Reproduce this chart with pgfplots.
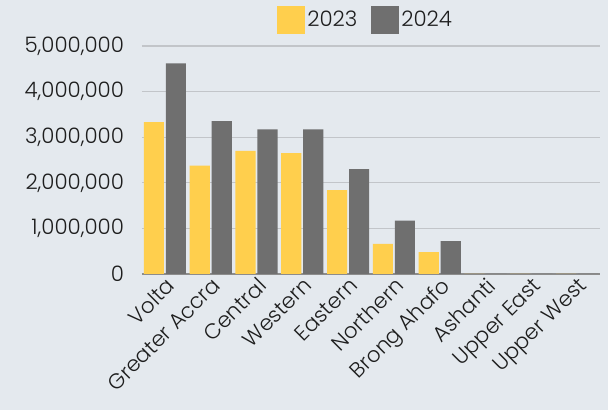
\documentclass[border=0pt]{standalone}
\usepackage{fontspec}
\setmainfont{Poppins}[UprightFont={* Light}]
\usepackage{pgfplots}
\pgfplotsset{compat=1.18}
\usetikzlibrary{calc,backgrounds}

\definecolor{bgc}{HTML}{E4E9EE}
\definecolor{yel}{HTML}{FFCF4D}
\definecolor{gry}{HTML}{6F6F6F}
\definecolor{gridc}{HTML}{C2C5C9}
\definecolor{txt}{HTML}{1E1E1E}

\begin{document}
\begin{tikzpicture}
  \begin{axis}[
      name=ax,
      scale only axis,
      width=343.5pt, height=171pt,
      ybar, bar width=0.44,
      xmin=-0.5, xmax=9.5,
      ymin=0, ymax=5000000,
      ytick={0,1000000,2000000,3000000,4000000,5000000},
      scaled y ticks=false,
      /pgf/number format/fixed,
      /pgf/number format/1000 sep={,},
      /pgf/number format/assume math mode=true,
      yticklabel style={font=\fontsize{16}{18}\selectfont, xshift=-10pt, text=txt},
      xtick={0,...,9},
      xticklabels={Volta,Greater Accra,Central,Western,Eastern,Northern,Brong Ahafo,Ashanti,Upper East,Upper West},
      xticklabel style={font=\fontsize{16}{18}\selectfont, rotate=45, anchor=north east, inner sep=1pt, text=txt},
      major tick length=0pt,
      ymajorgrids, grid style={gridc, line width=0.8pt},
      axis x line*=bottom, axis y line*=left,
      y axis line style={draw=none},
      x axis line style={draw=gry!80, line width=0.8pt},
      legend style={at={(0.5,1)}, anchor=south, xshift=-4pt, yshift=7pt, draw=none, fill=none,
        font=\fontsize{16}{18}\selectfont, text=txt, legend columns=2,
        /tikz/every even column/.append style={column sep=8pt}},
      legend image code/.code={\fill[#1] (0pt,-10.5pt) rectangle (21pt,10.5pt);},
    ]
    \addplot[fill=yel, draw=none, bar shift=-0.24] coordinates {
      (0,3330000) (1,2375000) (2,2700000) (3,2650000) (4,1840000)
      (5,660000) (6,480000) (7,0) (8,0) (9,0)
    };
    \addplot[fill=gry, draw=none, bar shift=0.24] coordinates {
      (0,4620000) (1,3350000) (2,3170000) (3,3170000) (4,2300000)
      (5,1170000) (6,720000) (7,0) (8,0) (9,0)
    };
    \legend{2023,2024}
  \end{axis}
  \begin{pgfonlayer}{background}
    \fill[bgc] ($(ax.south west)+(-106.5pt,-102pt)$) rectangle ($(ax.south west)+(349.5pt,205.5pt)$);
  \end{pgfonlayer}
\end{tikzpicture}
\end{document}
